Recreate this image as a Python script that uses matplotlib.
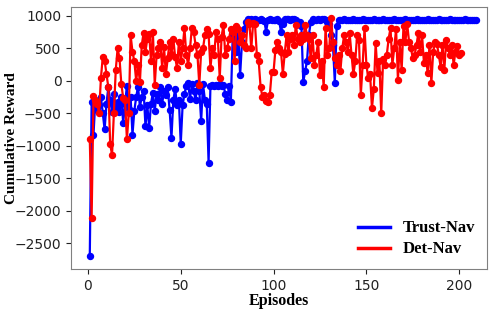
import numpy as np
import matplotlib
matplotlib.use('Agg')
import matplotlib.pyplot as plt

# cumulative reward per episode
trust_nav = [
    -2700, -320, -830, -300, -450, -380, -250, -500, -750, -350,
    -100, -300, -480, -200, -420, -330, -480, -250, -650, -350,
    -80, -430, -250, -830, -460, -250, -90, -400, -250, -150,
    -700, -380, -720, -350, -180, -460, -200, -300, -100, -350,
    -160, -220, -100, -450, -880, -300, -120, -380, -300, -970,
    -380, -200, -80, -40, -280, -50, -150, -300, -30, -150,
    -620, -50, -290, -350, -1260, -80, -60, -80, -60, -80,
    -50, -80, -60, -200, -300, -80, -320, 700, 620, 450,
    700, 90, 600, 800, 900, 950, 940, 960, 930, 950,
    940, 930, 950, 940, 920, 760, 930, 950, 940, 930,
    940, 950, 920, 760, 880, 950, 960, 950, 940, 960,
    950, 930, 880, 900, 850, -20, 150, 300, 700, 900,
    950, 940, 930, 950, 940, 960, 950, 930, 900, 870,
    700, 550, -30, 850, 930, 940, 930, 950, 940, 930,
    940, 930, 950, 930, 940, 930, 940, 950, 930, 940,
    930, 940, 930, 950, 940, 930, 940, 930, 950, 940,
    930, 940, 930, 940, 950, 930, 940, 930, 940, 930,
    950, 940, 930, 940, 930, 940, 950, 930, 940, 930,
    940, 930, 950, 940, 930, 940, 930, 940, 950, 930,
    940, 930, 940, 930, 950, 940, 930, 940, 930, 940,
    930, 940, 950, 930, 940, 930, 940, 930, 940,
]

det_nav = [
    -900, -2110, -240, -300, -350, -500, 40, 370, 310, 100,
    -100, -980, -1140, -500, 170, 500, 350, -50, -260, -300,
    -900, -500, 700, 450, 300, 0, 250, -20, 550, 740,
    450, 650, 720, 300, 750, -60, 400, 500, 600, 200,
    520, 100, 350, 600, 420, 650, 360, 200, 600, 300,
    500, 810, 400, 250, 500, 820, 750, 550, 400, -60,
    450, 500, 700, 800, 720, 200, 500, 400, 750, 650,
    40, 680, 860, 400, 500, 650, 800, 750, 300, 850,
    800, 600, 700, 550, 500, 900, 870, 500, 890, 870,
    400, 300, -90, -250, -215, -310, -330, -215, 140, 140,
    480, 600, 500, 450, 110, 420, 700, 450, 650, 700,
    550, 860, 650, 600, 700, 650, 860, 700, 650, 350,
    700, 250, 400, 600, 90, 300, -90, 810, 400, 500,
    970, 600, 350, 250, 400, 150, 500, 700, 600, 450,
    730, 400, 100, 300, 700, 630, -215, 250, 810, 250,
    40, 100, -420, -130, 580, 120, 300, -500, 330, 250,
    400, 650, 810, 250, 500, 800, 15, 600, 170, 850,
    600, 870, 600, 500, 350, 400, 550, 740, 450, 700,
    280, 400, 120, 550, -30, 450, 600, 570, 400, 220,
    550, 170, 630, 500, 400, 550, 250, 450, 530, 400,
    430,
]

ep_trust = np.arange(1, len(trust_nav) + 1)
ep_det = np.arange(1, len(det_nav) + 1)

serif = ['Liberation Serif', 'DejaVu Serif']

fig = plt.figure(figsize=(4.98, 3.11), dpi=100)
ax = fig.add_axes([0.143, 0.135, 0.835, 0.843])

ax.plot(ep_trust, trust_nav, color='#0000ff', marker='o', markersize=4.3,
        linewidth=1.6, label='Trust-Nav')
ax.plot(ep_det, det_nav, color='#ff0000', marker='o', markersize=4.3,
        linewidth=1.6, label='Det-Nav')

ax.set_xlim(-9, 215)
ax.set_ylim(-2900, 1140)
ax.set_xticks([0, 50, 100, 150, 200])
ax.set_yticks(np.arange(-2500, 1001, 500))
ax.tick_params(labelsize=10, colors='#222222', length=3.5)
for s in ax.spines.values():
    s.set_color('#808080')

ax.set_xlabel('Episodes', family=serif, fontweight='bold', fontsize=11.5,
              labelpad=0)
ax.set_ylabel('Cumulative Reward', family=serif, fontweight='bold',
              fontsize=11)
ax.yaxis.set_label_coords(-0.128, 0.5)

leg = ax.legend(loc='lower right', frameon=False,
                prop={'family': serif, 'weight': 'bold', 'size': 12},
                handlelength=1.9, borderaxespad=0.3, labelspacing=0.3)
for h in leg.legend_handles:
    h.set_marker('')
    h.set_linewidth(2.5)

plt.savefig('out.png', dpi=100)
